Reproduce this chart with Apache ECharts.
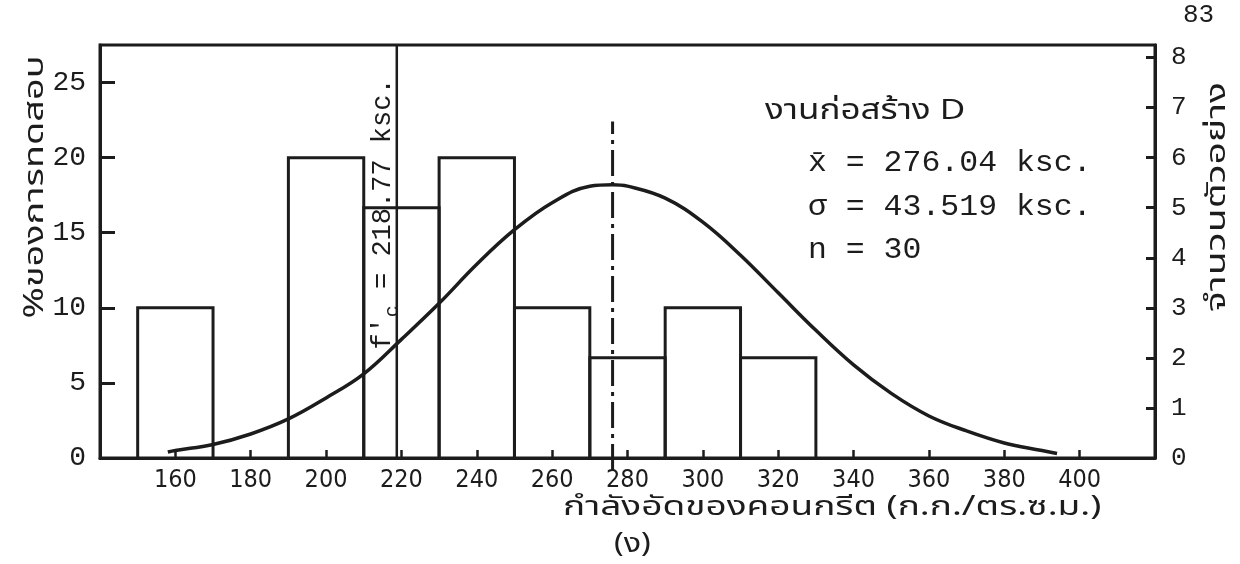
<!DOCTYPE html>
<html>
<head>
<meta charset="utf-8">
<script src="https://cdn.jsdelivr.net/npm/echarts@6/dist/echarts.min.js"></script>
<style>
html,body{margin:0;padding:0;background:#fff;}
#c{width:1240px;height:564px;}
</style>
</head>
<body>
<div id="c"></div>
<script>
// ---- data ----
const binStart = [150, 190, 210, 230, 250, 270, 290, 310];
const binEnd   = [170, 210, 230, 250, 270, 290, 310, 330];
const binPct   = [10, 20, 16.67, 20, 10, 6.67, 10, 6.67];   // % of tests
const curveX = [158, 160, 170, 180, 190, 200, 210, 220, 230, 240, 250, 260, 270, 276, 280, 290, 300, 310, 320, 330, 340, 350, 360, 370, 380, 390, 394];
const curveY = [0.4, 0.5, 0.9, 1.6, 2.6, 4.0, 5.6, 7.9, 10.3, 12.9, 15.2, 17.0, 18.1, 18.2, 18.1, 17.3, 15.7, 13.5, 11.0, 8.5, 6.2, 4.3, 2.8, 1.8, 1.0, 0.5, 0.3];
const meanX = 276.04;
const meanTop = 22.4;
const fcX = 218.77;
const xTicks = [160, 180, 200, 220, 240, 260, 280, 300, 320, 340, 360, 380, 400];
const leftTicks = [0, 5, 10, 15, 20, 25];
const rightTicks = [0, 1, 2, 3, 4, 5, 6, 7, 8];

const INK = '#1c1c1c';
const MONO = "'Liberation Mono', 'DejaVu Sans Mono', monospace";
const NARROW = "'Liberation Sans Narrow', 'DejaVu Sans Condensed', 'Liberation Sans', sans-serif";
const THAI = "'Noto Sans Thai', 'Loma', 'Garuda', 'Tlwg Typist', 'Noto Sans', 'DejaVu Sans', sans-serif";

const chart = echarts.init(document.getElementById('c'), null, {renderer: 'canvas'});

const bars = binStart.map((s, i) => [s, binEnd[i], binPct[i]]);
const curve = curveX.map((x, i) => [x, curveY[i]]);
const vlines = [[fcX, 0, 27.5, 0], [meanX, 0, meanTop, 1]];

chart.setOption({
  animation: false,
  backgroundColor: '#fff',
  grid: {left: 100, right: 85, top: 45, bottom: 106, show: true, borderColor: INK, borderWidth: 3, backgroundColor: 'transparent'},
  xAxis: {
    type: 'value', min: 140, max: 420, interval: 20,
    axisLine: {lineStyle: {color: INK, width: 3}},
    axisTick: {inside: true, length: 8, lineStyle: {color: INK, width: 2.5}, customValues: xTicks},
    axisLabel: {customValues: xTicks, color: INK, fontFamily: NARROW, fontSize: 25, margin: 10},
    splitLine: {show: false}
  },
  yAxis: [{
    type: 'value', min: 0, max: 27.5, interval: 5, position: 'left',
    axisLine: {show: true, lineStyle: {color: INK, width: 3}},
    axisTick: {show: true, inside: true, length: 15, lineStyle: {color: INK, width: 3}, customValues: leftTicks},
    axisLabel: {customValues: leftTicks, color: INK, fontFamily: MONO, fontSize: 28, margin: 14},
    splitLine: {show: false}
  }, {
    type: 'value', min: 0, max: 8.25, interval: 1, position: 'right',
    axisLine: {show: true, lineStyle: {color: INK, width: 3}},
    axisTick: {show: true, inside: true, length: 9, lineStyle: {color: INK, width: 3}, customValues: rightTicks},
    axisLabel: {customValues: rightTicks, color: INK, fontFamily: MONO, fontSize: 26, margin: 16},
    splitLine: {show: false}
  }],
  series: [{
    type: 'custom',
    coordinateSystem: 'cartesian2d',
    data: bars,
    renderItem: function (params, api) {
      const p0 = api.coord([api.value(0), 0]);
      const p1 = api.coord([api.value(1), api.value(2)]);
      return {
        type: 'polyline',
        shape: {points: [[p0[0], p0[1]], [p0[0], p1[1]], [p1[0], p1[1]], [p1[0], p0[1]]]},
        style: {stroke: INK, lineWidth: 3, fill: 'none'}
      };
    },
    z: 2
  }, {
    type: 'custom',
    coordinateSystem: 'cartesian2d',
    data: vlines,
    clip: false,
    renderItem: function (params, api) {
      const a = api.coord([api.value(0), api.value(1)]);
      const b = api.coord([api.value(0), api.value(2)]);
      const dashed = api.value(3) === 1;
      return {
        type: 'line',
        shape: {x1: a[0], y1: dashed ? a[1] + 12 : a[1], x2: b[0], y2: b[1]},
        style: {stroke: INK, lineWidth: dashed ? 3 : 2.5, lineDash: dashed ? [26, 6, 4, 6] : null}
      };
    },
    z: 2
  }, {
    type: 'line',
    data: curve,
    smooth: 0.4,
    showSymbol: false,
    symbol: 'none',
    lineStyle: {color: INK, width: 3.5},
    z: 3
  }],
  graphic: [
    {type: 'text', left: 1183, top: 2, style: {text: '83', font: "26px " + MONO, fill: INK}},
    {type: 'text', x: 38, y: 187, rotation: Math.PI / 2, scaleX: 1.4,
     style: {text: '%ของการทดสอบ', font: "27px " + THAI, fill: INK, align: 'center', verticalAlign: 'middle'}},
    {type: 'text', x: 1220, y: 197, rotation: Math.PI / 2, scaleX: 1.5,
     style: {text: 'จำนวนตัวอย่าง', font: "26px " + THAI, fill: INK, align: 'center', verticalAlign: 'middle'}},
    {type: 'text', x: 383, y: 214, rotation: Math.PI / 2,
     style: {
       text: '{f|f\u2032}{s|c}{t| = 218.77 ksc.}', align: 'center', verticalAlign: 'middle',
       rich: {
         f: {font: "27px " + MONO, fill: INK, lineHeight: 40},
         s: {font: "20px " + MONO, fill: INK, lineHeight: 20, verticalAlign: 'bottom'},
         t: {font: "27px " + MONO, fill: INK, lineHeight: 40}
       }
     }},
    {type: 'text', x: 765, y: 113, scaleX: 1.25, style: {text: 'งานก่อสร้าง D', font: "28px " + THAI, fill: INK, verticalAlign: 'middle'}},
    {type: 'text', x: 808, y: 163, scaleX: 1.05, style: {text: 'x\u0304 = 276.04 ksc.', font: "30px " + MONO, fill: INK, verticalAlign: 'middle'}},
    {type: 'text', x: 808, y: 207, scaleX: 1.05, style: {text: '\u03c3 = 43.519 ksc.', font: "30px " + MONO, fill: INK, verticalAlign: 'middle'}},
    {type: 'text', x: 808, y: 250, scaleX: 1.05, style: {text: 'n = 30', font: "30px " + MONO, fill: INK, verticalAlign: 'middle'}},
    {type: 'text', x: 563, y: 510, scaleX: 1.37, style: {text: 'กำลังอัดของคอนกรีต (ก.ก./ตร.ซ.ม.)', font: "27px " + THAI, fill: INK, verticalAlign: 'middle'}},
    {type: 'text', x: 614, y: 547, scaleX: 1.2, style: {text: '(ง)', font: "27px " + THAI, fill: INK, verticalAlign: 'middle'}}
  ]
});
</script>
</body>
</html>
